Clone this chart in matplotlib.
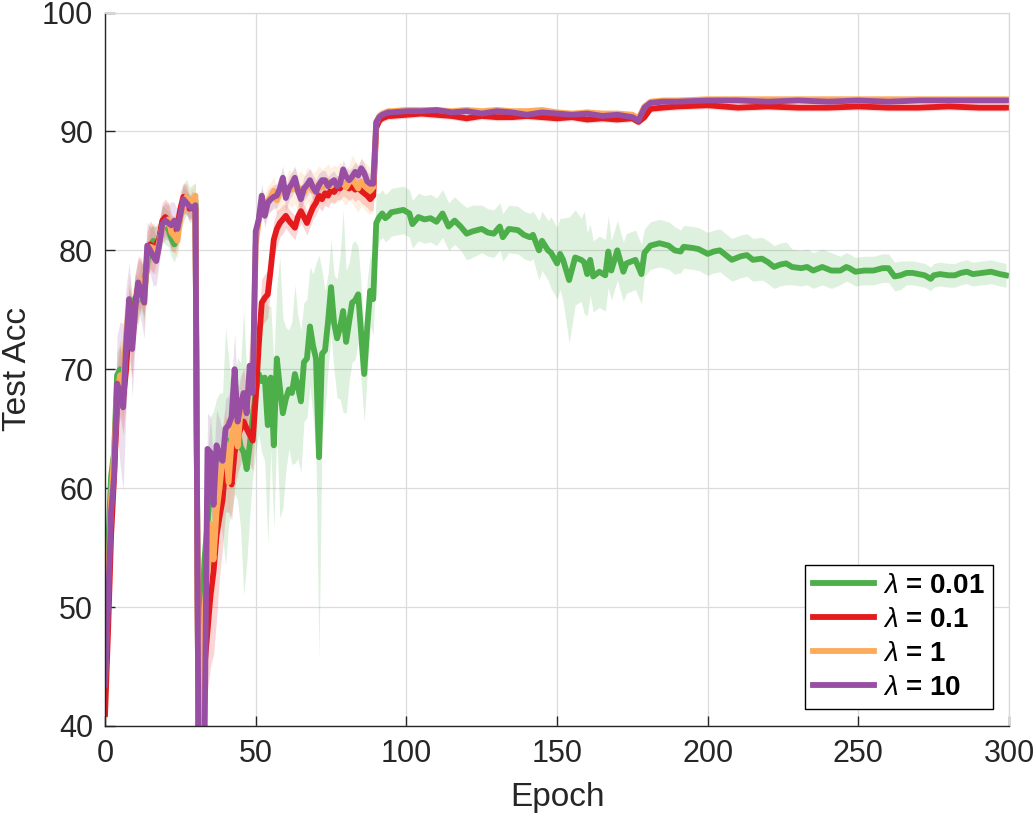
import numpy as np
import matplotlib
matplotlib.use("Agg")
import matplotlib.pyplot as plt

plt.rcParams['font.family'] = ['Liberation Sans', 'DejaVu Sans']
plt.rcParams['mathtext.fontset'] = 'custom'
plt.rcParams['mathtext.rm'] = 'Liberation Sans'
plt.rcParams['mathtext.it'] = 'Liberation Sans:italic'
plt.rcParams['mathtext.bf'] = 'Liberation Sans:bold'

# epochs shared by lambda = 0.1, 1, 10
ep = list(range(0, 96)) + [100, 105, 110, 115, 120, 125, 130, 135, 140, 145, 150, 155,
                           160, 165, 170, 175, 177, 179, 181, 185, 190, 200, 210, 220,
                           230, 240, 250, 260, 270, 280, 290, 299]

# lambda = 10 (purple)
acc_p = [43.5, 50, 58, 61, 68.8, 68, 66.8, 72, 75.9, 71.7,
         75, 77.3, 76.5, 75.6, 80.4, 80, 79.5, 79.1, 80.5, 82.2,
         82.5, 82.3, 82.1, 82.5, 81.8, 83, 84.3, 84, 83.7, 83.5,
         83.8, 38, 36, 38, 63.3, 63, 58.6, 63.6, 62.8, 62.3,
         65, 65.3, 66, 70, 65.6, 67, 68, 66.3, 70.3, 68,
         81.6, 82.6, 84.6, 82.9, 84, 84.3, 84.5, 84.6, 85.2, 86.1,
         84.4, 85.2, 85.6, 86.1, 85, 84.3, 85.2, 85.5, 85.9, 85.3,
         84.9, 85.5, 85.9, 85.9, 85.4, 85.7, 85.9, 85.4, 85.6, 86.8,
         86.2, 85.9, 86.2, 86.6, 86.3, 86.9, 86.5, 85.8, 85.6, 85.6,
         90.8, 91.2, 91.4, 91.5, 91.6, 91.6,
         91.7, 91.7, 91.8, 91.6, 91.7, 91.5, 91.7, 91.6, 91.4, 91.6, 91.5, 91.4,
         91.5, 91.3, 91.4, 91.2, 90.9, 92.0, 92.4, 92.5, 92.5, 92.6, 92.6, 92.5,
         92.6, 92.5, 92.6, 92.5, 92.6, 92.6, 92.6, 92.6]
sd_p = [1.5, 2.5, 3, 4, 4, 6, 7, 5, 3, 4,
        3, 2, 2.5, 3, 2, 2, 2.5, 2, 1.5, 1.5,
        1.5, 1.5, 2, 1.5, 1.5, 1.5, 1.2, 1, 1, 1,
        1, 3, 3, 3, 3, 3, 3.5, 3, 3, 2.5,
        2.5, 2.5, 3, 3, 2.5, 2.5, 2, 2, 2, 2,
        1.5, 1.2, 1, 1, 1, 1, 1, 1, 1, 1,
        1, 1, 1, 1, 1, 1, 1, 1, 1, 1,
        1, 1, 0.8, 0.8, 0.8, 0.8, 0.8, 0.8, 0.8, 0.8,
        0.8, 0.8, 0.8, 0.8, 0.8, 0.8, 0.8, 0.8, 0.8, 1,
        0.5, 0.4, 0.3, 0.3, 0.3, 0.3,
        0.3, 0.3, 0.3, 0.3, 0.3, 0.3, 0.3, 0.3, 0.3, 0.3, 0.3, 0.3,
        0.3, 0.3, 0.3, 0.3, 0.3, 0.3, 0.2, 0.2, 0.2, 0.2, 0.2, 0.2,
        0.2, 0.2, 0.2, 0.2, 0.2, 0.2, 0.2, 0.2]

# lambda = 0.1 (red)
acc_r = [41, 48, 56, 61, 67, 69, 67.5, 70, 74, 72.3,
         75.5, 77, 77.3, 76.5, 79.5, 80.5, 80, 80.5, 81, 82.5,
         82.8, 82.5, 81.5, 81.3, 82, 83.5, 84.5, 84.3, 83.5, 84,
         83.5, 38, 40, 45, 48, 51, 53, 56, 57.6, 59,
         62, 61.5, 60.3, 63, 64.3, 65, 65.6, 65, 64.5, 64,
         67.6, 72, 75.6, 76, 76.3, 78.5, 80.9, 81.8, 82.3, 82.6,
         82.9, 82.5, 82.2, 81.9, 82.8, 83.3, 82.8, 82.3, 83, 83.6,
         84, 84.6, 84.3, 84.8, 84.6, 85.1, 84.9, 85.3, 85.2, 85.6,
         85.4, 85.2, 85.4, 85.1, 85.3, 85, 84.8, 84.6, 84.3, 84.6,
         90.3, 90.9, 91.1, 91.2, 91.3, 91.3,
         91.4, 91.5, 91.4, 91.3, 91.1, 91.3, 91.2, 91.2, 91.3, 91.2, 91.1, 91.2,
         91.0, 91.1, 91.0, 91.1, 90.8, 91.2, 91.9, 92.0, 92.1, 92.2, 92.0, 92.1,
         92.0, 92.0, 92.1, 92.0, 92.0, 92.1, 92.0, 92.0]
sd_r = [1, 2, 3, 3, 3, 3, 3, 3, 3, 3,
        2.5, 2.5, 2, 2, 2, 2, 2, 1.5, 1.5, 1.5,
        1.5, 1.5, 1.5, 1.5, 1.5, 1.5, 1.2, 1.2, 1, 1,
        1, 3, 4, 5, 5, 6, 7, 7, 5, 4,
        4, 3.5, 3, 3, 3, 3, 2.5, 2.5, 2.5, 2.5,
        2, 2, 2, 2, 2, 1.5, 1.5, 1.5, 1.2, 1.2,
        1, 1, 1, 1, 1, 1, 1, 1, 1, 1,
        1, 1, 1, 1, 1, 1, 1, 1, 1, 1,
        1, 1, 1, 1, 1, 1, 1, 1, 1, 1.2,
        0.5, 0.4, 0.3, 0.3, 0.3, 0.3,
        0.3, 0.3, 0.3, 0.3, 0.3, 0.3, 0.3, 0.3, 0.3, 0.3, 0.3, 0.3,
        0.3, 0.3, 0.3, 0.3, 0.3, 0.3, 0.3, 0.3, 0.3, 0.3, 0.3, 0.3,
        0.3, 0.3, 0.3, 0.3, 0.3, 0.3, 0.3, 0.3]

# lambda = 1 (orange)
acc_o = [44, 52, 59, 63, 68, 69.5, 68.5, 73, 75.5, 73.5,
         75, 76.5, 77.5, 75.5, 79.8, 80.3, 80.2, 79.5, 80.8, 82,
         82.3, 82.6, 81.5, 81.2, 80.8, 82.8, 83.5, 84.5, 84, 84.2,
         84.6, 38, 40, 50, 53, 57, 54, 58, 60, 62.5,
         63.8, 60.5, 64, 66, 63.5, 66.5, 67.5, 67, 69, 68.5,
         80.5, 82.5, 84, 83.5, 84.2, 84.5, 85, 84.2, 84.8, 85,
         84.6, 85.3, 85.1, 85.4, 84.9, 85.2, 84.8, 85.5, 85.3, 85,
         85.2, 85.6, 85.3, 85.5, 85.8, 85.4, 85.7, 85.5, 85.9, 85.6,
         85.3, 85.7, 86, 85.6, 85.2, 85.8, 85.5, 85.2, 85, 85.3,
         90.7, 91.3, 91.5, 91.6, 91.7, 91.7,
         91.8, 91.8, 91.8, 91.7, 91.8, 91.7, 91.8, 91.7, 91.7, 91.8, 91.6, 91.5,
         91.6, 91.5, 91.5, 91.4, 91.1, 92.1, 92.5, 92.6, 92.6, 92.7, 92.7, 92.7,
         92.7, 92.7, 92.7, 92.7, 92.7, 92.7, 92.7, 92.7]
sd_o = [1.5, 2, 3, 3, 3, 3, 3, 3, 2.5, 3,
        2.5, 2.5, 2, 2, 2, 2, 2, 1.5, 1.5, 1.5,
        1.5, 1.5, 1.5, 1.5, 1.5, 1.5, 1.2, 1.2, 1, 1,
        1, 3, 4, 4, 4, 4, 4, 3.5, 3, 3,
        3, 3, 3, 3, 3, 2.5, 2.5, 2.5, 2.5, 2.5,
        2, 1.5, 1.2, 1.2, 1.2, 1.2, 1.2, 1.2, 1.5, 1.5,
        1.5, 1.5, 1.5, 1.5, 1.5, 1.5, 1.5, 1.5, 1.5, 1.5,
        1.5, 1.5, 1.5, 1.5, 1.5, 1.5, 1.5, 1.5, 1.5, 1.5,
        1.5, 1.5, 2, 2, 2, 2, 2, 2, 2, 2,
        0.6, 0.4, 0.3, 0.3, 0.3, 0.3,
        0.3, 0.3, 0.3, 0.3, 0.3, 0.3, 0.3, 0.3, 0.3, 0.3, 0.3, 0.3,
        0.3, 0.3, 0.3, 0.3, 0.3, 0.3, 0.3, 0.3, 0.3, 0.3, 0.3, 0.3,
        0.3, 0.3, 0.3, 0.3, 0.3, 0.3, 0.3, 0.3]

# lambda = 0.01 (green) has its own epochs
ep_g = list(range(0, 96)) + [97, 99, 101, 102, 104, 106, 108, 110, 112, 114,
                             116, 118, 120, 122, 125, 127, 129, 131, 132, 134,
                             137, 139, 141, 142, 144, 145, 147, 148, 150, 151,
                             152, 154, 156, 158, 159, 160, 161, 162, 164, 166,
                             167, 168, 170, 172, 173, 176, 178, 179, 181, 184,
                             187, 189, 191, 192, 195, 197, 200, 202, 204, 206,
                             208, 211, 213, 215, 218, 220, 222, 224, 226, 228,
                             231, 233, 235, 238, 241, 244, 246, 247, 249, 252,
                             255, 258, 260, 262, 264, 266, 268, 270, 272, 274,
                             275, 277, 280, 282, 284, 286, 288, 291, 294, 297,
                             299]
acc_g = [44, 55, 61, 63, 69.5, 70, 68, 72.5, 75, 74,
         76, 75.8, 77, 76.2, 79, 80.3, 80.8, 80.5, 81, 82.3,
         82, 81.8, 81, 80.5, 81.5, 83, 84, 84.5, 83.8, 84,
         84.2, 38, 48, 54, 57, 60, 61.5, 62.5, 63, 62,
         63.5, 64, 63, 64.5, 65, 63.5, 63, 61.6, 63.6, 66,
         68, 69.6, 69, 69.3, 65.3, 69.3, 63.6, 70.9, 68.5, 66.3,
         67.5, 68.3, 68, 69.6, 68.5, 67.3, 70.6, 70.9, 73.6, 72,
         70.9, 62.6, 71.3, 71.6, 74, 76.9, 73.9, 72.6, 73.5, 74.9,
         72.3, 74, 75.6, 75.8, 76.3, 73, 69.6, 73.5, 76.6, 75.9,
         82.3, 82.8, 83.1, 82.7, 82.9, 83.2,
         83.3, 83.4, 83.1, 82.2, 82.8, 82.6, 82.7, 82.4, 83.1, 82,
         82.5, 82.0, 81.4, 81.6, 81.8, 81.5, 81.4, 82, 81.1, 81.8,
         81.7, 81.3, 81.1, 81.3, 80, 80.8, 80, 79.8, 78.9, 79.7,
         79.2, 77.5, 79.4, 79.2, 79, 78, 79.2, 77.8, 78.2, 77.9,
         79.9, 78.3, 80, 78.2, 78.9, 79.2, 78, 79.8, 80.4, 80.6,
         80.4, 80.0, 79.9, 80.3, 80.2, 80.1, 79.7, 79.9, 80, 79.6,
         79.2, 79.5, 79.6, 79.2, 79.3, 79.0, 78.6, 78.8, 78.9, 78.6,
         78.5, 78.6, 78.3, 78.6, 78.3, 78.3, 78.6, 78.5, 78.2, 78.3,
         78.3, 78.5, 78.5, 77.8, 77.9, 78.1, 78.1, 78.0, 77.9, 77.6,
         77.9, 78.0, 77.9, 77.9, 78.1, 78.2, 78.0, 78.1, 78.2, 78.0,
         77.9]
sd_g = [1.5, 2, 2, 2, 2, 2, 2, 2, 2, 2,
        2, 2, 2, 2, 1.5, 1.5, 1.5, 1.5, 1.5, 1.5,
        1.5, 1.5, 1.5, 1.5, 1.5, 1.5, 1.5, 1.5, 1.5, 1.5,
        1.5, 3, 5, 6, 6, 6, 5, 5, 5, 6,
        10, 7, 5, 5, 6, 7, 12, 8, 6, 5,
        5, 5, 6, 7, 10, 6, 7, 6, 11, 8,
        6, 5, 6, 7.5, 6, 6, 5, 5, 5, 6,
        8, 17, 7, 5, 4, 4, 4, 5, 6, 8.5,
        6, 5, 5, 5, 4, 4, 4, 4, 3, 3,
        2.5, 2, 2, 2, 2, 2,
        2, 2, 2, 2, 2, 2, 2, 2, 2, 2,
        2, 2, 2.2, 2.2, 2, 2, 2, 2, 2, 2,
        2, 2, 2, 2, 2.5, 2.5, 2.5, 3, 3, 3,
        3.5, 5.3, 4, 3.5, 4.3, 3.5, 3, 3, 3, 3,
        3, 2.5, 2.5, 2.5, 2.5, 2.5, 2.5, 2, 2, 2,
        2, 2, 1.8, 1.8, 1.8, 1.8, 1.8, 1.8, 1.8, 1.8,
        1.8, 1.8, 1.8, 1.8, 1.8, 1.8, 1.8, 1.8, 1.8, 1.5,
        1.5, 1.5, 1.5, 1.5, 1.5, 1.2, 1.2, 1.2, 1.2, 1.2,
        1.2, 1.2, 1.2, 1.2, 1.2, 1.0, 1.0, 1.0, 1.0, 1.0,
        1.0, 1.0, 1.0, 1.0, 1.0, 1.0, 1.0, 1.0, 1.0, 1.0,
        1.0]

labels = [r'$\lambda$ = 0.01', r'$\lambda$ = 0.1', r'$\lambda$ = 1', r'$\lambda$ = 10']
colors = ['#4daf4a', '#e41a1c', '#fdaa5b', '#984ea3']

series = [(ep_g, acc_g, sd_g), (ep, acc_r, sd_r), (ep, acc_o, sd_o), (ep, acc_p, sd_p)]

fig = plt.figure(figsize=(10.36, 8.17), dpi=100)
ax = fig.add_axes([0.1014, 0.1114, 0.8726, 0.8733])

for (x, m, s), c in zip(series, colors):
    x = np.array(x); m = np.array(m); s = np.array(s)
    ax.fill_between(x, m - s, m + s, color=c, alpha=0.18, linewidth=0)

for (x, m, s), c, lab in zip(series, colors, labels):
    ax.plot(x, m, color=c, linewidth=4.2, label=lab, solid_joinstyle='round')

ax.set_xlim(0, 300)
ax.set_ylim(40, 100)
ax.set_xticks([0, 50, 100, 150, 200, 250, 300])
ax.set_yticks([40, 50, 60, 70, 80, 90, 100])
ax.grid(True, color='#dcdcdc', linewidth=0.9)
ax.set_axisbelow(True)
for side in ['top', 'right']:
    ax.spines[side].set_color('#d9d9d9')
    ax.spines[side].set_linewidth(0.9)
for side in ['left', 'bottom']:
    ax.spines[side].set_color('#262626')
    ax.spines[side].set_linewidth(1.0)
ax.tick_params(axis='both', direction='in', length=7, width=1.0, color='#262626',
               labelsize=22, labelcolor='#262626')
ax.tick_params(axis='x', pad=9.5)
ax.tick_params(axis='y', pad=8.5)

ax.set_xlabel('Epoch', fontsize=24, color='#262626', labelpad=9)
ax.set_ylabel('Test Acc', fontsize=24, color='#262626', labelpad=6.5)

leg = ax.legend(loc='lower right', bbox_to_anchor=(0.982, 0.024), borderaxespad=0,
                prop={'weight': 'bold', 'size': 20}, frameon=True, fancybox=False,
                edgecolor='#000000', framealpha=1, handlelength=2.2,
                handletextpad=0.3, labelspacing=0.28, borderpad=0.3)
leg.get_frame().set_linewidth(1.0)

fig.savefig('out.png', dpi=100)
